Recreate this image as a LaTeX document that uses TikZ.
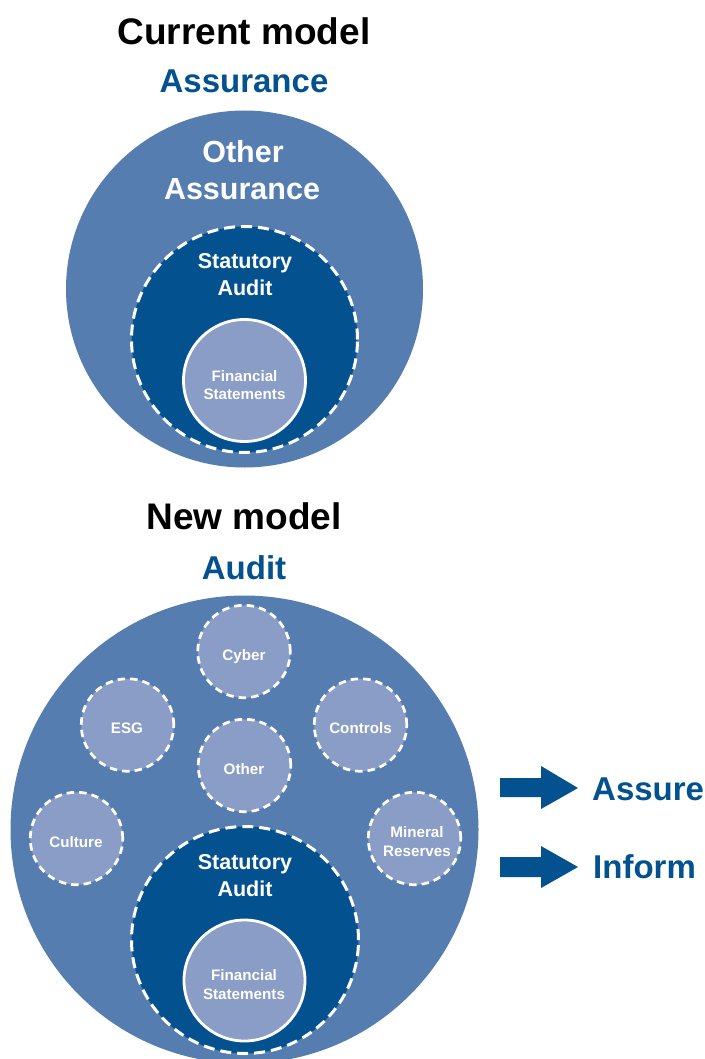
\documentclass[tikz,border=0pt]{standalone}
\usepackage{fontspec}
\setmainfont{Liberation Sans}
\definecolor{midblue}{HTML}{567DB0}
\definecolor{darkblue}{HTML}{03518F}
\definecolor{lightblue}{HTML}{8A9DC6}
\begin{document}
\begin{tikzpicture}[x=1pt,y=-1pt,
  ring/.style={circle,inner sep=0pt,minimum size=#1},
  outer/.style={ring=#1,fill=midblue},
  statbox/.style={ring=#1,fill=darkblue,draw=white,line width=3pt,dash pattern=on 11pt off 6pt},
  finbox/.style={ring=#1,fill=lightblue,draw=white,line width=2.8pt},
  areabox/.style={ring=#1,fill=lightblue,draw=white,line width=2.7pt,dash pattern=on 7.5pt off 5pt},
  txt/.style={anchor=base,inner sep=0pt,font=\bfseries},
  title/.style={txt,font=\fontsize{37}{44}\selectfont\bfseries,text=black},
  sub/.style={txt,font=\fontsize{33}{40}\selectfont\bfseries,text=darkblue},
  wbig/.style={txt,font=\fontsize{30.5}{37}\selectfont\bfseries,text=white},
  wmid/.style={txt,font=\fontsize{21.5}{26}\selectfont\bfseries,text=white},
  wsmall/.style={txt,font=\fontsize{15.2}{18}\selectfont\bfseries,text=white},
  blockarrow/.style={fill=darkblue}
]
\useasboundingbox (0,0) rectangle (704,1059);

% ---------- Current model ----------
\node[title] (t1) at (244,45) {Current model};
\node[sub] (s1) at (244,93) {Assurance};
\node[outer=357pt] (c1) at (244.5,289) {};
\node[statbox=226pt] (sa1) at (244.5,339.5) {};
\node[finbox=122pt] (fs1) at (244.5,380.5) {};
\node[wbig] (oa1) at (243,163) {Other};
\node[wbig] (oa2) at (242,200) {Assurance};
\node[wmid] (st1) at (245,268) {Statutory};
\node[wmid] (st2) at (245,295) {Audit};
\node[wsmall] (f1) at (244.5,381.5) {Financial};
\node[wsmall] (f2) at (244.5,399) {Statements};

% ---------- New model ----------
\node[title] (t2) at (244,529) {New model};
\node[sub] (s2) at (244,579) {Audit};
\node[outer=468pt] (c2) at (244.5,829.5) {};
\node[areabox=92.5pt] (cyber) at (244,651.5) {};
\node[areabox=92.5pt] (esg) at (127.5,725) {};
\node[areabox=92.5pt] (ctrl) at (360.5,725) {};
\node[areabox=92.5pt] (oth) at (244.5,765.5) {};
\node[areabox=92.5pt] (cult) at (76.5,838.5) {};
\node[areabox=92.5pt] (mine) at (414.5,838.5) {};
\node[statbox=227pt] (sa2) at (245,940) {};
\node[finbox=121pt] (fs2) at (244.5,980.5) {};

\node[wsmall] (lcy) at (244,660.5) {Cyber};
\node[wsmall] (les) at (127,733.5) {ESG};
\node[wsmall] (lco) at (360.5,733.5) {Controls};
\node[wsmall] (lot) at (244,774.5) {Other};
\node[wsmall] (lcu) at (76,847.5) {Culture};
\node[wsmall] (lm1) at (417,837.5) {Mineral};
\node[wsmall] (lm2) at (417,856.5) {Reserves};
\node[wmid] (st3) at (245,869) {Statutory};
\node[wmid] (st4) at (245,896) {Audit};
\node[wsmall] (f3) at (244,980.5) {Financial};
\node[wsmall] (f4) at (244,999.5) {Statements};

% ---------- Arrows ----------
\fill[blockarrow] (500,778) -- (541,778) -- (541,766) -- (578,788) -- (541,809) -- (541,797) -- (500,797) -- cycle;
\fill[blockarrow] (500,857) -- (541,857) -- (541,846) -- (578,867) -- (541,888) -- (541,877) -- (500,877) -- cycle;
\node[sub,anchor=base west] (as) at (592,800) {Assure};
\node[sub,anchor=base west] (inf) at (593,878) {Inform};
\end{tikzpicture}
\end{document}
